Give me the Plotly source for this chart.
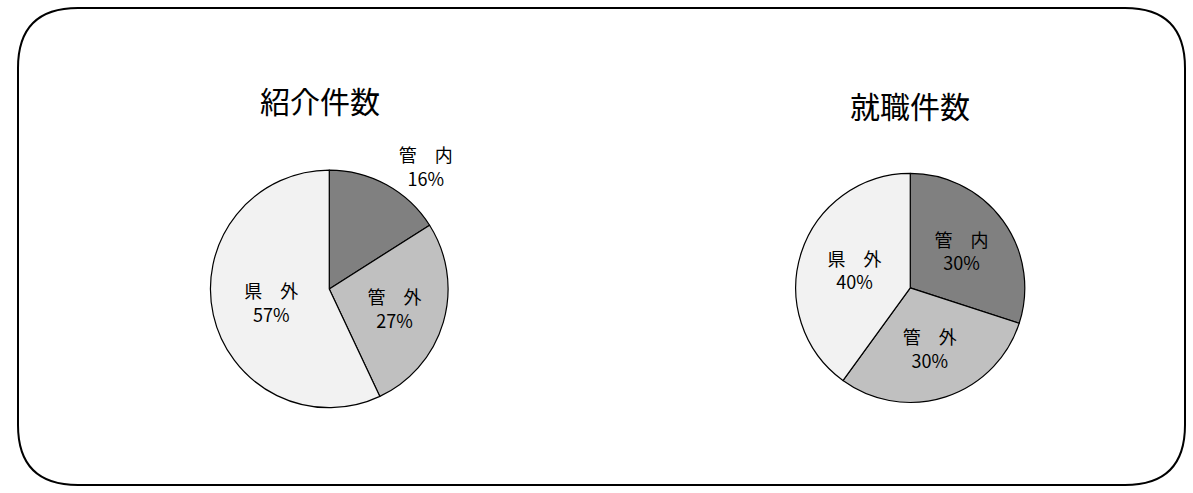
import plotly.graph_objects as go

categories = ["管　内", "管　外", "県　外"]
referral_values = [16, 27, 57]
placement_values = [30, 30, 40]
colors = ["#808080", "#c0c0c0", "#f2f2f2"]

W, H = 1193, 493
fig = go.Figure()

fig.add_trace(go.Pie(
    labels=categories, values=referral_values, sort=False, direction="clockwise",
    rotation=0, marker=dict(colors=colors, line=dict(color="black", width=1.2)),
    texttemplate="%{label}<br>%{percent:.0%}", textposition=["outside", "inside", "inside"],
    insidetextorientation="horizontal",
    textfont=dict(size=18, color="black"), showlegend=False,
    domain=dict(x=[0.176, 0.376], y=[0.173, 0.655]),
))
fig.add_trace(go.Pie(
    labels=categories, values=placement_values, sort=False, direction="clockwise",
    rotation=0, marker=dict(colors=colors, line=dict(color="black", width=1.2)),
    texttemplate="%{label}<br>%{percent:.0%}", textposition="inside",
    insidetextorientation="horizontal",
    textfont=dict(size=18, color="black"), showlegend=False,
    domain=dict(x=[0.667, 0.859], y=[0.183, 0.649]),
))

fig.add_annotation(x=320, y=100, text="紹介件数", showarrow=False, xanchor="center",
                   yanchor="middle", font=dict(size=30, color="black"))
fig.add_annotation(x=910, y=105, text="就職件数", showarrow=False, xanchor="center",
                   yanchor="middle", font=dict(size=30, color="black"))

# rounded frame
x0, y0, x1, y1, r = 18, 8, 1185, 485, 60
path = (f"M {x0+r},{y0} L {x1-r},{y0} Q {x1},{y0} {x1},{y0+r} L {x1},{y1-r} "
        f"Q {x1},{y1} {x1-r},{y1} L {x0+r},{y1} Q {x0},{y1} {x0},{y1-r} "
        f"L {x0},{y0+r} Q {x0},{y0} {x0+r},{y0} Z")
fig.add_shape(type="path", path=path, xref="x", yref="y", line=dict(color="black", width=2))

fig.update_xaxes(range=[0, W], visible=False)
fig.update_yaxes(range=[H, 0], visible=False)
fig.update_layout(
    margin=dict(l=0, r=0, t=0, b=0),
    paper_bgcolor="white", plot_bgcolor="white",
    font=dict(family="Noto Sans CJK JP"),
)
fig.write_html("out.html", default_width="100vw", default_height="100vh",
               include_plotlyjs=True, config={"displayModeBar": False})
with open("out.html", encoding="utf-8") as f:
    html = f.read()
html = html.replace("<body>", '<body style="margin:0;overflow:hidden">', 1)
with open("out.html", "w", encoding="utf-8") as f:
    f.write(html)
